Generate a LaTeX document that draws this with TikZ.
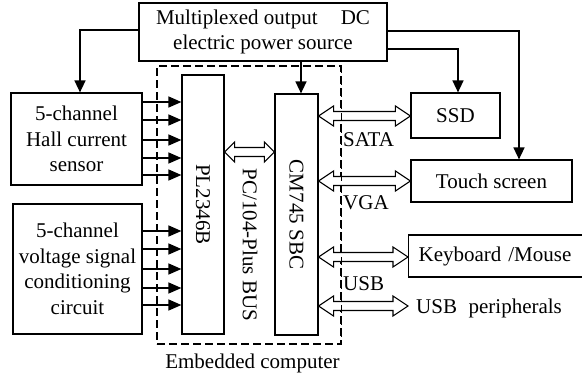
\documentclass[tikz,border=0pt]{standalone}
\usepackage{fontspec}
\setmainfont{LiberationSerif}[Extension=.ttf,UprightFont=*-Regular,BoldFont=*-Bold,ItalicFont=*-Italic,BoldItalicFont=*-BoldItalic]
\usetikzlibrary{arrows.meta,calc}

\tikzset{
  box/.style={draw, line width=1.2pt, inner sep=0pt, align=center},
  arr/.style={line width=1.5pt, -{Triangle[length=12pt,width=11pt]}},
  inarr/.style={line width=1.4pt, -{Triangle[length=13pt,width=11pt]}},
  hollow/.style={draw, line width=1.1pt, fill=white, line join=miter},
  embbox/.style={draw, dash pattern=on 8pt off 4pt, line width=1.1pt},
  lbl/.style={inner sep=0pt}
}

% hollow two-headed arrow between two points on the same horizontal line
% #1 start, #2 end, #3 head length
\newcommand\hollowlink[3]{%
  \draw[hollow] let \p1=(#1), \p2=(#2) in
    (\x1,\y1) -- (\x1+#3,\y1+10pt) -- (\x1+#3,\y1+4.5pt) -- (\x2-#3,\y1+4.5pt)
    -- (\x2-#3,\y1+10pt) -- (\x2,\y1) -- (\x2-#3,\y1-10pt) -- (\x2-#3,\y1-4.5pt)
    -- (\x1+#3,\y1-4.5pt) -- (\x1+#3,\y1-10pt) -- cycle;}

\begin{document}
\begin{tikzpicture}[x=1pt,y=-1pt,font=\fontsize{21}{25.5}\selectfont]
\useasboundingbox (0,0) rectangle (582,375);
\clip (0,0) rectangle (582,375);

% embedded computer frame
\node[embbox, minimum width=184pt, minimum height=278pt] (emb) at (249,205) {};
\node[lbl] (embl) at (252.5,363) {Embedded computer};

% blocks
\node[box, minimum width=248pt, minimum height=58pt] (power) at (263,32)
  {Multiplexed output\hspace{0.85em} DC\\electric power source};
\node[box, minimum width=131pt, minimum height=92pt] (hall) at (76.5,139)
  {5-channel\\Hall current\\sensor};
\node[box, minimum width=129pt, minimum height=130pt] (volt) at (77.5,269)
  {5-channel\\voltage signal\\conditioning\\circuit};
\node[box, fill=white, minimum width=42pt, minimum height=259pt] (pl) at (203,204.5)
  {\rotatebox{-90}{PL2346B}};
\node[box, fill=white, minimum width=43pt, minimum height=241pt] (cm) at (296.5,214.5)
  {\rotatebox{-90}{CM745 SBC}};
\node[lbl] (bus) at (250,245) {\rotatebox{-90}{PC/104-Plus BUS}};
\node[box, minimum width=89pt, minimum height=45pt] (ssd) at (455.5,115.5) {SSD};
\node[box, minimum width=161pt, minimum height=42pt] (touch) at (491.5,181) {Touch screen};
\node[box, anchor=west, minimum height=42pt, text width=172pt, align=left,
  inner xsep=10pt] (kbd) at (408,256) {Keyboard /Mouse};
\node[lbl, anchor=west, inner xsep=8pt] (usbp) at (408,308) {USB\hspace{0.3em} peripherals};

% interface labels
\node[lbl, anchor=west] (sata) at (343,140) {SATA};
\node[lbl, anchor=west] (vga) at (343,203) {VGA};
\node[lbl, anchor=west] (usb) at (343,284) {USB};

% power distribution
\draw[arr] (power.west |- 0,30) -| (hall.north -| 80,0);
\draw[arr] (power.south -| 301,0) -- (cm.north -| 301,0);
\draw[arr] (power.east |- 0,49) -| (ssd.north -| 458,0);
\draw[arr] (power.east |- 0,31) -| (touch.north -| 519,0);

% sensor channels
\foreach \yy in {102,120,140,158,175}
  \draw[inarr] (hall.east |- 0,\yy) -- (pl.west |- 0,\yy);
\foreach \yy in {231,249,269,288,305}
  \draw[inarr] (volt.east |- 0,\yy) -- (pl.west |- 0,\yy);

% buses
\hollowlink{pl.east |- 0,152}{cm.west |- 0,152}{10pt}
\hollowlink{cm.east |- 0,116}{ssd.west}{15pt}
\hollowlink{cm.east |- 0,181}{touch.west}{15pt}
\hollowlink{cm.east |- 0,257}{kbd.west}{15pt}
\hollowlink{cm.east |- 0,306}{usbp.west |- 0,306}{15pt}

% dashed frame edge drawn over the bus arrows
\draw[embbox] (emb.north east) -- (emb.south east);
\end{tikzpicture}
\end{document}
